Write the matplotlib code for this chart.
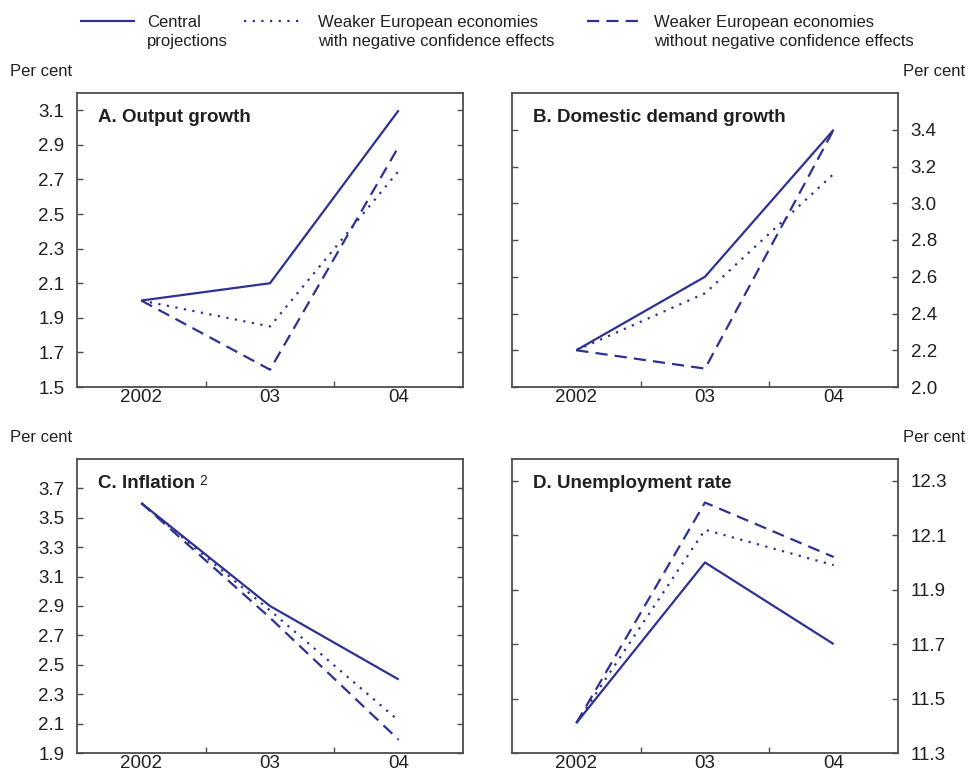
import matplotlib
matplotlib.use('Agg')
import matplotlib.pyplot as plt
from matplotlib.lines import Line2D

plt.rcParams['font.family'] = ['Liberation Sans', 'DejaVu Sans']

years = ['2002', '03', '04']

# A. Output growth
output_central = [2.0, 2.1, 3.1]
output_with_conf = [2.0, 1.85, 2.75]
output_without_conf = [2.0, 1.6, 2.89]

# B. Domestic demand growth
demand_central = [2.2, 2.6, 3.4]
demand_with_conf = [2.2, 2.51, 3.16]
demand_without_conf = [2.2, 2.1, 3.4]

# C. Inflation
infl_central = [3.6, 2.9, 2.4]
infl_with_conf = [3.6, 2.87, 2.12]
infl_without_conf = [3.6, 2.82, 1.99]

# D. Unemployment rate
unemp_central = [11.41, 12.0, 11.7]
unemp_with_conf = [11.41, 12.12, 11.99]
unemp_without_conf = [11.41, 12.22, 12.02]

series_names = ['Central\nprojections',
                'Weaker European economies\nwith negative confidence effects',
                'Weaker European economies\nwithout negative confidence effects']

BLUE = '#2e3192'
TXT = '#231f20'
SPINE = '#4d4d4d'
LW = 1.6
styles = [dict(linestyle='-'),
          dict(linestyle=(0, (1.0, 2.9))),
          dict(linestyle=(0, (5.5, 3.2)))]

fig = plt.figure(figsize=(9.68, 7.72), dpi=100)

W, H = 968, 772
def box(x0, y0, x1, y1):
    return [x0 / W, 1 - y1 / H, (x1 - x0) / W, (y1 - y0) / H]

panels = [
    ('A. Output growth', None, [output_central, output_with_conf, output_without_conf],
     (1.5, 3.2), [1.5 + 0.2 * i for i in range(9)], 'left', box(77, 93, 463, 387)),
    ('B. Domestic demand growth', None, [demand_central, demand_with_conf, demand_without_conf],
     (2.0, 3.6), [2.0 + 0.2 * i for i in range(8)], 'right', box(512, 93, 898, 387)),
    ('C. Inflation', '2', [infl_central, infl_with_conf, infl_without_conf],
     (1.9, 3.9), [1.9 + 0.2 * i for i in range(10)], 'left', box(77, 459, 463, 753)),
    ('D. Unemployment rate', None, [unemp_central, unemp_with_conf, unemp_without_conf],
     (11.3, 12.38), [11.3 + 0.2 * i for i in range(6)], 'right', box(512, 459, 898, 753)),
]

x = list(range(len(years)))
for title, sup, data, ylim, yticks, side, rect in panels:
    ax = fig.add_axes(rect)
    for vals, st in zip(data, styles):
        ax.plot(x, vals, color=BLUE, lw=LW, solid_capstyle='butt', dash_capstyle='butt', **st)
    ax.set_xlim(-0.5, 2.5)
    ax.set_ylim(*ylim)
    ax.set_yticks(yticks)
    ax.set_yticklabels(['{:.1f}'.format(v) for v in yticks])
    # tick marks sit between the years, labels sit under them
    ax.set_xticks([0.5, 1.5])
    ax.set_xticklabels([])
    ax.set_xticks(x, minor=True)
    ax.set_xticklabels(years, minor=True)
    ax.tick_params(axis='x', which='major', direction='in', length=4, width=1, color=SPINE)
    ax.tick_params(axis='x', which='minor', length=0, pad=1.5, labelsize=13.5, labelcolor=TXT)
    ax.tick_params(axis='y', direction='in', length=4, width=1, color=SPINE,
                   left=True, right=True, labelsize=13.5, labelcolor=TXT, pad=9,
                   labelleft=(side == 'left'), labelright=(side == 'right'))
    for sp in ax.spines.values():
        sp.set_color(SPINE)
        sp.set_linewidth(1.3)
    t = ax.text(0.055, 0.915, title, transform=ax.transAxes, fontsize=13.5,
                fontweight='bold', color=TXT, ha='left', va='center')
    if sup:
        ax.annotate(sup, xy=(1, 1), xycoords=t, xytext=(3, 1), textcoords='offset points',
                    fontsize=10, color=TXT, ha='left', va='top')

# "Per cent" unit labels
for px, py, ha in [(10, 72, 'left'), (965, 72, 'right'), (10, 437, 'left'), (965, 437, 'right')]:
    fig.text(px / W, 1 - py / H, 'Per cent', fontsize=12, color=TXT, ha=ha, va='center')

# legend across the top
handle_x = [(80, 135), (244, 303), (587, 643)]
text_x = [147, 318, 654]
for (hx0, hx1), tx, name, st in zip(handle_x, text_x, series_names, styles):
    fig.add_artist(Line2D([hx0 / W, hx1 / W], [1 - 21 / H, 1 - 21 / H], color=BLUE, lw=LW,
                          transform=fig.transFigure, solid_capstyle='butt',
                          dash_capstyle='butt', **st))
    fig.text(tx / W, 1 - 32 / H, name, fontsize=12, color=TXT, ha='left', va='center',
             linespacing=1.4)

fig.savefig('out.png', dpi=100)
